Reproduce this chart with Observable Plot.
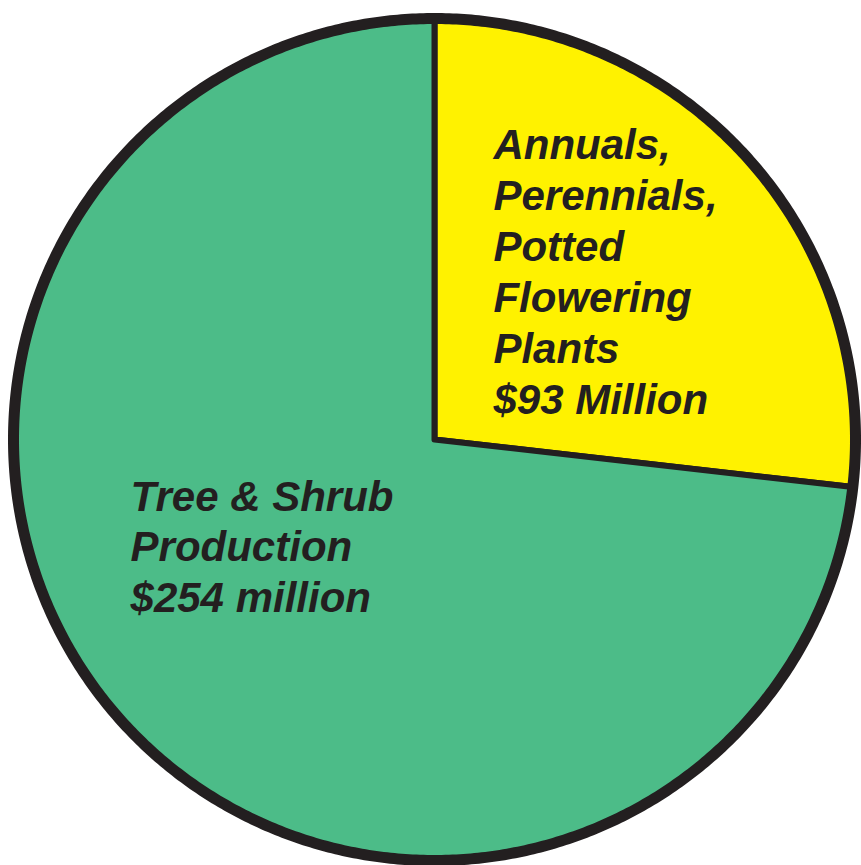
<!DOCTYPE html>
<html>
<head>
<meta charset="utf-8">
<script src="https://cdn.jsdelivr.net/npm/d3@7"></script>
<script src="https://cdn.jsdelivr.net/npm/@observablehq/plot@0.6"></script>
<style>
  html, body { margin: 0; padding: 0; background: #fff; }
  #chart svg { display: block; }
</style>
</head>
<body>
<div id="chart"></div>
<script>
// ---- data ----
const categories = ["Annuals, Perennials, Potted Flowering Plants", "Tree & Shrub Production"];
const values = [93, 254];
const labels = ["Annuals,\nPerennials,\nPotted\nFlowering\nPlants\n$93 Million", "Tree & Shrub\nProduction\n$254 million"];
const colors = ["#fff200", "#4cbc88"];

// ---- layout (style) ----
const W = 861, H = 865;
const cx = 434, cy = 439, R = 421;          // pixel centre and radius
const labelPos = [[0.140, 0.751], [-0.722, -0.083]]; // unit-circle coords of label top-left
const ink = "#231f20";

const table = categories.map((c, i) => ({category: c, value: values[i], label: labels[i], color: colors[i]}));
const arcs = d3.pie().sort(null).value(d => d.value).startAngle(0).endAngle(2 * Math.PI)(table);

// slice outlines in unit coordinates (angle clockwise from 12 o'clock)
const pts = [];
arcs.forEach(a => {
  const n = Math.max(4, Math.ceil((a.endAngle - a.startAngle) / (Math.PI / 360)));
  pts.push({k: a.data.category, x: 0, y: 0, color: a.data.color});
  for (let j = 0; j <= n; j++) {
    const t = a.startAngle + (a.endAngle - a.startAngle) * j / n;
    pts.push({k: a.data.category, x: Math.sin(t), y: Math.cos(t), color: a.data.color});
  }
  pts.push({k: a.data.category, x: 0, y: 0, color: a.data.color});
});
const rim = d3.range(0, 721).map(j => ({x: Math.sin(j * Math.PI / 360), y: Math.cos(j * Math.PI / 360)}));
const labelRows = table.map((d, i) => ({label: d.label, x: labelPos[i][0], y: labelPos[i][1]}));

const chart = Plot.plot({
  width: W,
  height: H,
  margin: 0,
  x: {domain: [-cx / R, (W - cx) / R], range: [0, W], axis: null},
  y: {domain: [-(H - cy) / R, cy / R], range: [H, 0], axis: null},
  marks: [
    Plot.line(pts, {x: "x", y: "y", z: "k", fill: d => d.color, stroke: ink, strokeWidth: 6, strokeLinejoin: "miter", curve: "linear"}),
    Plot.line(rim, {x: "x", y: "y", stroke: ink, strokeWidth: 11, fill: "none"}),
    Plot.text(labelRows, {x: "x", y: "y", text: "label", textAnchor: "start", lineAnchor: "top", lineHeight: 1.21,
      fontSize: 42, fontWeight: "bold", fontStyle: "italic", fontFamily: "'Liberation Sans', Arial, sans-serif", fill: ink})
  ]
});
document.getElementById("chart").appendChild(chart);
</script>
</body>
</html>
